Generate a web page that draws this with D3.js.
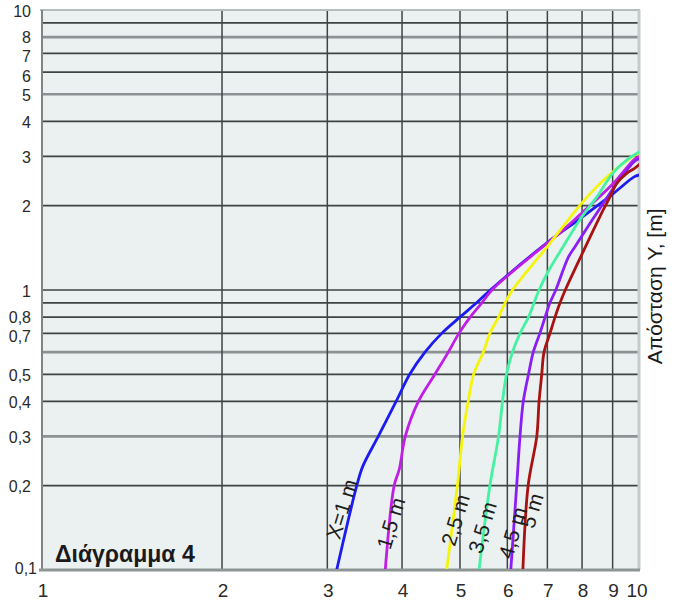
<!DOCTYPE html>
<html>
<head>
<meta charset="utf-8">
<script src="https://cdn.jsdelivr.net/npm/d3@7"></script>
<style>
  html, body { margin: 0; padding: 0; background: #ffffff; }
  svg { display: block; }
</style>
</head>
<body>
<script>
// ---------- data ----------
const xTickValues = [1, 2, 3, 4, 5, 6, 7, 8, 9, 10];
const xTickLabels = ["1", "2", "3", "4", "5", "6", "7", "8", "9", "10"];
const yGridValues = [0.1, 0.2, 0.3, 0.4, 0.5, 0.6, 0.7, 0.8, 0.9, 1, 2, 3, 4, 5, 6, 7, 8, 9, 10];
const yTickValues = [0.1, 0.2, 0.3, 0.4, 0.5, 0.7, 0.8, 1, 2, 3, 4, 5, 6, 7, 8, 10];
const yTickLabels = ["0,1", "0,2", "0,3", "0,4", "0,5", "0,7", "0,8", "1", "2", "3", "4", "5", "6", "7", "8", "10"];

const seriesNames = ["X=1 m", "1,5 m", "2,5 m", "3,5 m", "4,5 m", "5 m"];

// [x, y] pairs
const curveX1 = [[3.11,0.1],[3.36,0.2],[3.44,0.235],[3.65,0.3],[3.91,0.4],[4.12,0.5],[4.37,0.6],[4.66,0.7],[5.0,0.8],[5.33,0.9],[5.62,1.0],[6.98,1.47],[7.94,1.8],[9.02,2.21],[9.79,2.54],[10,2.58]];
const curveX15 = [[3.75,0.1],[3.88,0.2],[3.96,0.23],[4.05,0.3],[4.26,0.4],[4.54,0.5],[4.78,0.6],[4.98,0.7],[5.2,0.8],[5.44,0.9],[5.68,1.01],[7.44,1.64],[7.94,1.86],[9.02,2.4],[9.79,2.93],[10,3.0]];
const curveX25 = [[4.75,0.1],[4.95,0.2],[5.05,0.3],[5.16,0.4],[5.27,0.5],[5.47,0.6],[5.61,0.7],[5.8,0.8],[5.95,0.9],[6.12,1.0],[7.0,1.43],[7.94,2.01],[8.47,2.34],[9.02,2.65],[9.8,3.03],[10,3.09]];
const curveX35 = [[5.38,0.1],[5.61,0.2],[5.8,0.3],[5.89,0.4],[5.98,0.5],[6.12,0.6],[6.3,0.7],[6.51,0.8],[6.65,0.9],[6.78,1.0],[7.0,1.15],[7.44,1.43],[8.0,1.83],[8.47,2.15],[9.0,2.61],[9.5,2.91],[10,3.12]];
const curveX45 = [[6.08,0.1],[6.22,0.2],[6.3,0.3],[6.38,0.4],[6.51,0.5],[6.63,0.6],[6.8,0.7],[6.94,0.8],[7.07,0.9],[7.23,1.0],[7.59,1.31],[7.79,1.43],[8.25,1.73],[8.68,2.04],[9.14,2.4],[9.79,2.88],[10,2.95]];
const curveX5 = [[6.37,0.1],[6.5,0.2],[6.72,0.3],[6.78,0.4],[6.85,0.5],[6.91,0.6],[7.07,0.7],[7.21,0.8],[7.35,0.9],[7.5,1.0],[7.94,1.3],[8.57,1.83],[8.91,2.15],[9.14,2.4],[9.5,2.61],[9.79,2.72],[10,2.82]];

// label anchor points in data units
const labelX = [3.17, 3.83, 4.91, 5.45, 6.12, 6.59];
const labelY = [0.165, 0.147, 0.151, 0.142, 0.136, 0.163];

// ---------- styles ----------
const curves = [curveX1, curveX15, curveX25, curveX35, curveX45, curveX5];
const colors = ["#1c1cf0", "#c01ee6", "#f4f40c", "#44f2a2", "#8a1ef4", "#a81212"];
const lightLines = new Set([8, 5, 0.6, 0.3]);
// small vertical nudges for crowded tick labels (pixels)
const labelNudge = new Map([[8, -1], [7, 2], [6, 3], [0.8, -1], [0.7, 2.5], [0.1, -3]]);

const W = 684, H = 600;
const svg = d3.select("body").append("svg").attr("width", W).attr("height", H);

const x = d3.scaleLog().domain([1, 10]).range([42, 640]);
const y = d3.scaleLog().domain([0.1, 10]).range([570, 10]);

// plot background
svg.append("rect")
  .attr("x", x(1)).attr("y", y(10))
  .attr("width", x(10) - x(1)).attr("height", y(0.1) - y(10))
  .attr("fill", "#ebf0f0");

// horizontal grid
svg.append("g").selectAll("line")
  .data(yGridValues.filter(v => v !== 0.1 && v !== 10))
  .join("line")
  .attr("x1", x(1)).attr("x2", x(10))
  .attr("y1", d => y(d)).attr("y2", d => y(d))
  .attr("stroke", d => lightLines.has(d) ? "#8c9293" : "#3e4344")
  .attr("stroke-width", d => lightLines.has(d) ? 2.6 : 1.7);

// vertical grid
svg.append("g").selectAll("line")
  .data(xTickValues.filter(v => v !== 1 && v !== 10))
  .join("line")
  .attr("x1", d => x(d)).attr("x2", d => x(d))
  .attr("y1", y(10)).attr("y2", y(0.1))
  .attr("stroke", "#3e4344")
  .attr("stroke-width", 1.5);

// borders
svg.append("line").attr("x1", x(1) - 2).attr("x2", x(10)).attr("y1", y(10)).attr("y2", y(10))
  .attr("stroke", "#b3bdbd").attr("stroke-width", 2);
svg.append("line").attr("x1", x(10) - 1).attr("x2", x(10) - 1).attr("y1", y(10)).attr("y2", y(0.1))
  .attr("stroke", "#c2cccc").attr("stroke-width", 3);
svg.append("line").attr("x1", x(1)).attr("x2", x(1)).attr("y1", y(10)).attr("y2", y(0.1))
  .attr("stroke", "#7d8585").attr("stroke-width", 2);
svg.append("line").attr("x1", x(1) - 3).attr("x2", x(10)).attr("y1", y(0.1)).attr("y2", y(0.1))
  .attr("stroke", "#8d9595").attr("stroke-width", 3);

// curves
svg.append("clipPath").attr("id", "plotclip").append("rect")
  .attr("x", x(1)).attr("y", y(10)).attr("width", x(10) - x(1) - 1).attr("height", y(0.1) - y(10) - 1);

const line = d3.line()
  .x(d => x(d[0])).y(d => y(d[1]))
  .curve(d3.curveCatmullRom.alpha(0.5));

svg.append("g").attr("clip-path", "url(#plotclip)")
  .selectAll("path")
  .data(curves)
  .join("path")
  .attr("d", d => line(d))
  .attr("fill", "none")
  .attr("stroke", (d, i) => colors[i])
  .attr("stroke-width", 2.8)
  .attr("stroke-linejoin", "round")
  .attr("stroke-linecap", "round");

// curve labels
svg.append("g").selectAll("text")
  .data(seriesNames)
  .join("text")
  .attr("transform", (d, i) => `translate(${x(labelX[i])},${y(labelY[i])}) rotate(-73)`)
  .attr("text-anchor", "middle")
  .attr("dominant-baseline", "central")
  .attr("font-family", "'Liberation Sans', Arial, sans-serif")
  .attr("font-size", 21)
  .attr("fill", "#1e1e1e")
  .text(d => d);

// x tick labels
svg.append("g").selectAll("text")
  .data(xTickValues)
  .join("text")
  .attr("x", d => x(d) + (d === 10 ? -3 : 1))
  .attr("y", 597)
  .attr("text-anchor", "middle")
  .attr("font-family", "'Liberation Sans Narrow', 'Liberation Sans', Arial, sans-serif")
  .attr("font-size", 19)
  .attr("fill", "#2a2a2a")
  .text((d, i) => xTickLabels[i]);

// y tick labels
svg.append("g").selectAll("text")
  .data(yTickValues)
  .join("text")
  .attr("x", d => d === 0.1 ? 37 : 31)
  .attr("y", d => y(d) + 1 + (labelNudge.get(d) || 0))
  .attr("text-anchor", "end")
  .attr("dominant-baseline", "central")
  .attr("font-family", "'Liberation Sans Narrow', 'Liberation Sans', Arial, sans-serif")
  .attr("font-size", 16)
  .attr("fill", "#2a2a2a")
  .text((d, i) => yTickLabels[i]);

// diagram title
svg.append("text")
  .attr("x", 55).attr("y", 562)
  .attr("font-family", "'Liberation Sans', Arial, sans-serif")
  .attr("font-weight", "bold")
  .attr("font-size", 23)
  .attr("fill", "#1a1a1a")
  .text("Διάγραμμα 4");

// y axis title
svg.append("text")
  .attr("transform", `translate(662,${y(1.03)}) rotate(-90)`)
  .attr("text-anchor", "middle")
  .attr("font-family", "'Liberation Sans', Arial, sans-serif")
  .attr("font-size", 21)
  .attr("fill", "#1a1a1a")
  .text("Απόσταση Y, [m]");
</script>
</body>
</html>
